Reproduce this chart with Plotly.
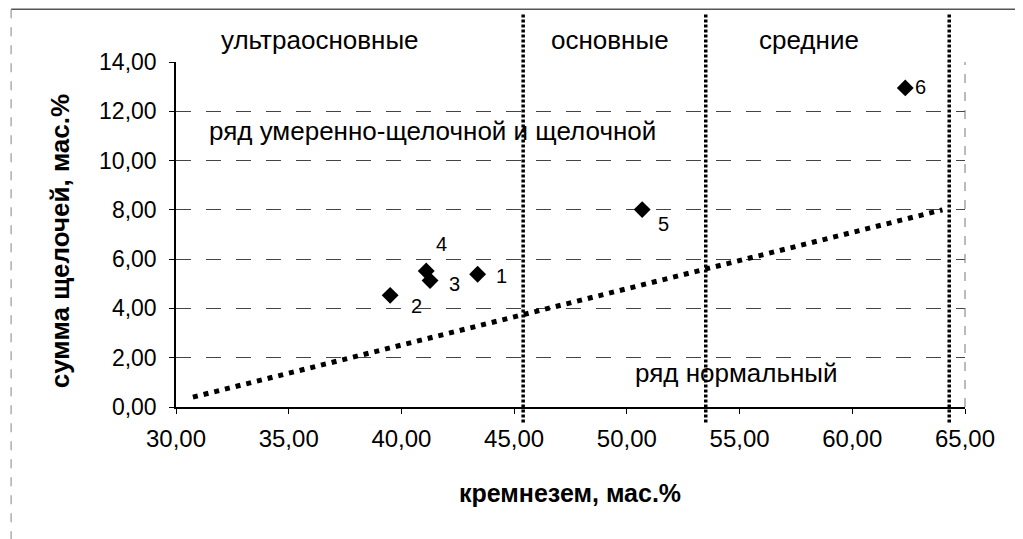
import plotly.graph_objects as go

# --- data ---
sample_ids = ["1", "2", "3", "4", "5", "6"]
silica = [43.38, 39.5, 41.27, 41.1, 50.68, 62.35]      # кремнезем, мас.%
alkali = [5.39, 4.53, 5.13, 5.52, 8.01, 12.95]         # сумма щелочей, мас.%
label_shift_x = [24, 26, 24, 15, 21, 15]
label_shift_y = [-2, -11, -3, 27, -14, 1]

boundary_x = [30.75, 64.0]     # divider: alkaline / normal series
boundary_y = [0.4, 8.0]

region_limits = [45.4, 53.5, 64.3]
region_names = ["ультраосновные", "основные", "средние"]
region_label_x = [36.39, 49.25, 58.08]

x_ticks = [30, 35, 40, 45, 50, 55, 60, 65]
y_ticks = [0, 2, 4, 6, 8, 10, 12, 14]

FONT = "Liberation Sans, Arial, sans-serif"

fig = go.Figure()

fig.add_trace(go.Scatter(
    x=boundary_x, y=boundary_y, mode="lines",
    line=dict(color="black", width=5, dash="5px,6px"),
    hoverinfo="skip", showlegend=False))

fig.add_trace(go.Scatter(
    x=silica, y=alkali, mode="markers",
    marker=dict(symbol="diamond", size=13, color="black"),
    showlegend=False))

for sid, xv, yv, dx, dy in zip(sample_ids, silica, alkali, label_shift_x, label_shift_y):
    fig.add_annotation(x=xv, y=yv, text=sid, showarrow=False,
                       xshift=dx, yshift=dy,
                       font=dict(family=FONT, size=20, color="black"))

for xv in region_limits:
    fig.add_shape(type="line", xref="x", yref="paper", x0=xv, x1=xv,
                  y0=-0.045, y1=1.14,
                  line=dict(color="black", width=3.5, dash="3px,2px"))

for name, xv in zip(region_names, region_label_x):
    fig.add_annotation(x=xv, y=1.064, xref="x", yref="paper", text=name,
                       showarrow=False, yanchor="middle",
                       font=dict(family=FONT, size=26, color="black"))

fig.add_annotation(x=41.36, y=11.2, text="ряд умеренно-щелочной и щелочной",
                   showarrow=False, font=dict(family=FONT, size=26, color="black"))
fig.add_annotation(x=54.85, y=1.38, text="ряд нормальный",
                   showarrow=False, font=dict(family=FONT, size=26, color="black"))

# axis titles
fig.add_annotation(x=0.4994, y=-0.249, xref="paper", yref="paper",
                   text="<b>кремнезем, мас.%</b>", showarrow=False,
                   yanchor="middle", font=dict(family=FONT, size=25, color="black"))
fig.add_annotation(x=-0.146, y=0.48, xref="paper", yref="paper",
                   text="<b>сумма щелочей, мас.%</b>", showarrow=False,
                   textangle=-90, xanchor="center", yanchor="middle",
                   font=dict(family=FONT, size=26, color="black"))

# frames
fig.add_shape(type="line", xref="paper", yref="paper", x0=1, x1=1, y0=0, y1=1,
              line=dict(color="#777", width=1, dash="dash"))
fig.add_shape(type="line", xref="paper", yref="paper", x0=-0.209, x1=1.1,
              y0=1.153, y1=1.153, line=dict(color="#555", width=1.5))
fig.add_shape(type="line", xref="paper", yref="paper", x0=-0.209, x1=-0.209,
              y0=1.153, y1=-0.4, line=dict(color="#999", width=1.2, dash="dash"))

fig.update_xaxes(range=[30, 65], tickvals=x_ticks, tickformat=".2f",
                 showgrid=False, zeroline=False, showline=True,
                 linecolor="black", linewidth=1.5, ticks="outside", ticklen=5,
                 ticklabelstandoff=4,
                 tickcolor="black", tickfont=dict(family=FONT, size=24, color="black"))
fig.update_yaxes(range=[0, 14], tickvals=y_ticks, tickformat=".2f",
                 showgrid=True, gridcolor="#444", gridwidth=1, griddash="longdash",
                 zeroline=False, showline=True,
                 linecolor="black", linewidth=1.5, ticks="outside", ticklen=5,
                 ticklabelstandoff=8,
                 tickcolor="black", tickfont=dict(family=FONT, size=23, color="black"))

fig.update_layout(width=1015, height=531, separators=", ",
                  margin=dict(l=168, r=58, t=54, b=132),
                  plot_bgcolor="white", paper_bgcolor="white",
                  font=dict(family=FONT, color="black"))

fig.write_html("out.html")
